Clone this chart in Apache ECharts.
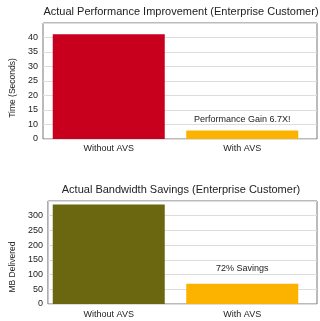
<!DOCTYPE html>
<html>
<head>
<meta charset="utf-8">
<script src="https://cdn.jsdelivr.net/npm/echarts@6/dist/echarts.min.js"></script>
<style>
  html, body { margin: 0; padding: 0; background: #fff; }
  #chart { width: 320px; height: 321px; }
</style>
</head>
<body>
<div id="chart"></div>
<script>
// categories shared by both charts
var categories = ['Without AVS', 'With AVS'];

// top chart: time in seconds
var perfValues = [41.1, 7.9];
var perfNotes = ['', 'Performance Gain 6.7X!'];

// bottom chart: MB delivered
var bwValues = [338, 69];
var bwNotes = ['', '72% Savings'];

// bar colours per category
var perfColors = ['#c8001e', '#fcb300'];
var bwColors = ['#6b6610', '#fcb300'];

var FONT = '"Liberation Sans", Arial, sans-serif';

function buildData(values, notes, colors, dist) {
  return values.map(function (v, i) {
    return {
      value: v,
      itemStyle: { color: colors[i] },
      label: {
        show: notes[i] !== '',
        position: 'top',
        distance: dist,
        formatter: notes[i],
        color: '#222',
        fontSize: 9,
        fontFamily: FONT
      }
    };
  });
}

var chart = echarts.init(document.getElementById('chart'));

var axisLabelStyle = { color: '#222', fontSize: 9, fontFamily: FONT };
var titleStyle = { fontSize: 11, fontWeight: 'normal', color: '#222', fontFamily: FONT };

// scale of each panel
var perfScale = { min: 5, max: 45, interval: 5 };
var bwScale = { min: 0, max: 350, interval: 50 };

var option = {
  animation: false,
  backgroundColor: '#fff',
  title: [{
    text: 'Actual Performance Improvement (Enterprise Customer)',
    left: 176, top: 1, textAlign: 'center',
    textStyle: titleStyle
  }, {
    text: 'Actual Bandwidth Savings (Enterprise Customer)',
    left: 176, top: 179, textAlign: 'center',
    textStyle: titleStyle
  }],
  grid: [
    // frames with gridlines
    { left: 33, right: 3, top: 23, height: 116, show: true, borderColor: '#777', borderWidth: 1 },
    { left: 33, right: 3, top: 201, height: 103, show: true, borderColor: '#777', borderWidth: 1 },
    // bar areas (a bit inset, like the original)
    { left: 42, right: 11, top: 23, height: 116 },
    { left: 42, right: 11, top: 201, height: 103 }
  ],
  xAxis: [
    { type: 'category', gridIndex: 0, data: categories, show: false },
    { type: 'category', gridIndex: 1, data: categories, show: false },
    {
      type: 'category', gridIndex: 2, data: categories,
      axisLine: { show: false }, axisTick: { show: false },
      axisLabel: Object.assign({ margin: 5 }, axisLabelStyle)
    },
    {
      type: 'category', gridIndex: 3, data: categories,
      axisLine: { show: false }, axisTick: { show: false },
      axisLabel: Object.assign({ margin: 6 }, axisLabelStyle)
    }
  ],
  yAxis: [{
    type: 'value',
    gridIndex: 0,
    min: perfScale.min, max: perfScale.max, interval: perfScale.interval,
    name: 'Time (Seconds)',
    nameLocation: 'middle',
    nameGap: 26,
    nameTextStyle: { color: '#222', fontSize: 8.5, fontFamily: FONT, padding: [0, 14, 0, 0] },
    axisLine: { show: false },
    axisTick: { show: false },
    splitLine: { lineStyle: { color: '#ddd' } },
    axisLabel: Object.assign({
      margin: 5,
      formatter: function (v) { return v === 5 ? '0' : (v === 45 ? '' : v); }
    }, axisLabelStyle)
  }, {
    type: 'value',
    gridIndex: 1,
    min: bwScale.min, max: bwScale.max, interval: bwScale.interval,
    name: 'MB Delivered',
    nameLocation: 'middle',
    nameGap: 26,
    nameTextStyle: { color: '#222', fontSize: 8.5, fontFamily: FONT, padding: [0, 29, 0, 0] },
    axisLine: { show: false },
    axisTick: { show: false },
    splitLine: { lineStyle: { color: '#ddd' } },
    axisLabel: Object.assign({
      margin: 5,
      formatter: function (v) { return v === 350 ? '' : v; }
    }, axisLabelStyle)
  }, {
    type: 'value', gridIndex: 2, show: false,
    min: perfScale.min, max: perfScale.max, splitLine: { show: false }
  }, {
    type: 'value', gridIndex: 3, show: false,
    min: bwScale.min, max: bwScale.max, splitLine: { show: false }
  }],
  series: [{
    type: 'bar',
    xAxisIndex: 2, yAxisIndex: 2,
    barWidth: 112,
    data: buildData(perfValues, perfNotes, perfColors, 7)
  }, {
    type: 'bar',
    xAxisIndex: 3, yAxisIndex: 3,
    barWidth: 112,
    data: buildData(bwValues, bwNotes, bwColors, 11)
  }]
};

chart.setOption(option);
</script>
</body>
</html>
